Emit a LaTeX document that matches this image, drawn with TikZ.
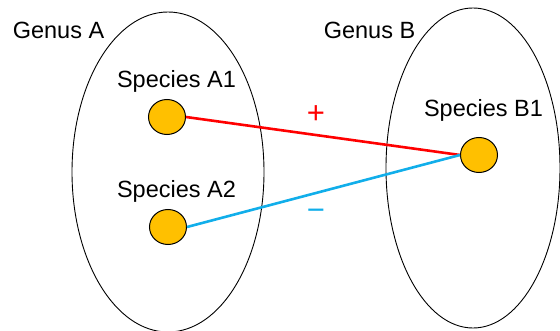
\documentclass[tikz,border=0pt]{standalone}
\usepackage{fontspec}
\setmainfont{Liberation Sans}
\usepackage{xcolor}
\definecolor{spcGold}{RGB}{255, 192,   0}
\definecolor{spcRed} {RGB}{255,   0,   0}
\definecolor{spcSky} {RGB}{ 17, 174, 234}
\usepackage{tikz}
\usetikzlibrary{
  shapes.geometric,
}

\begin{document}
\begin{tikzpicture}[
  x=1pt, y=-1pt,
  genus/.style={ellipse, draw=black, line width=0.9pt, inner sep=0pt},
  species/.style={ellipse, draw=black, line width=1pt, fill=spcGold,
                  minimum width=37pt, minimum height=35pt, inner sep=0pt},
  lbl/.style={font=\fontsize{23.5}{27}\selectfont, anchor=base, inner sep=0pt},
  sign/.style={font=\fontsize{31}{35}\selectfont, inner sep=0pt},
  link/.style={line width=2.6pt},
]
  \useasboundingbox (0,0) rectangle (560,331);

  % Genus ellipses, one per side
  \node[genus, minimum width=192pt, minimum height=320pt] (ga) at (168,172) {};
  \node[genus, minimum width=174pt, minimum height=320pt] (gb) at (473,168) {};

  % Species dots
  \node[species] (a1) at (167,117) {};
  \node[species] (a2) at (168,227) {};
  \node[species] (b1) at (479,155) {};

  % Labels
  \node[lbl] (gal) at ( 58.5, 39) {Genus A};
  \node[lbl] (gbl) at (369.5, 39) {Genus B};
  \node[lbl] (a1l) at (176.5, 88) {Species A1};
  \node[lbl] (a2l) at (176.5,198) {Species A2};
  \node[lbl] (b1l) at (483.5,117) {Species B1};

  % Interactions
  \draw[link, spcRed] (a1.east) -- (b1.west);
  \draw[link, spcSky] (a2.east) -- (b1.west);
  \node[sign, text=spcRed] (pos) at (316,115) {+};
  \node[sign, text=spcSky] (neg) at (316,215) {−};
\end{tikzpicture}
\end{document}
